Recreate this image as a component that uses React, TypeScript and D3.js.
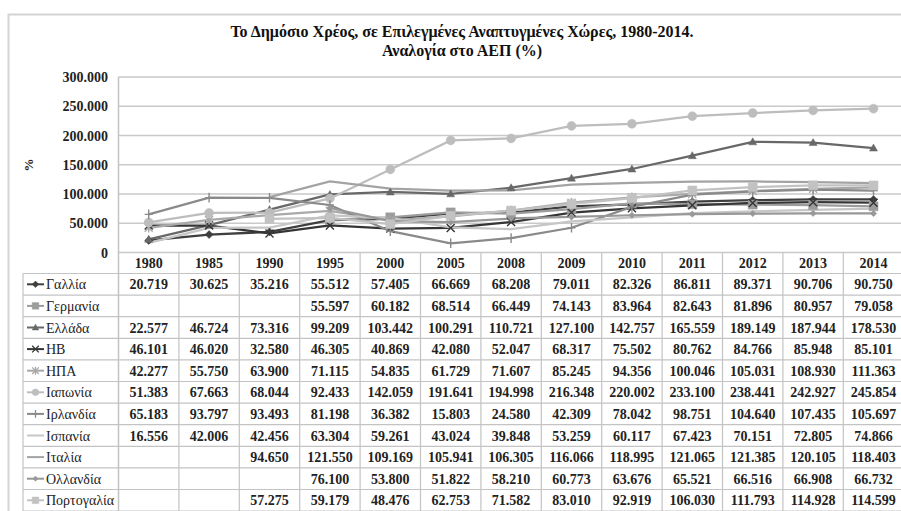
import React from 'react';
import * as d3 from 'd3';

const years = ['1980', '1985', '1990', '1995', '2000', '2005', '2008', '2009', '2010', '2011', '2012', '2013', '2014'];
const yTicks = [0, 50, 100, 150, 200, 250, 300];
const yTickLabels = ['0', '50.000', '100.000', '150.000', '200.000', '250.000', '300.000'];

const countries = ['Γαλλία', 'Γερμανία', 'Ελλάδα', 'HB', 'ΗΠΑ', 'Ιαπωνία', 'Ιρλανδία', 'Ισπανία', 'Ιταλία', 'Ολλανδία', 'Πορτογαλία'];

const france = [20.719, 30.625, 35.216, 55.512, 57.405, 66.669, 68.208, 79.011, 82.326, 86.811, 89.371, 90.706, 90.750];
const germany = [null, null, null, 55.597, 60.182, 68.514, 66.449, 74.143, 83.964, 82.643, 81.896, 80.957, 79.058];
const greece = [22.577, 46.724, 73.316, 99.209, 103.442, 100.291, 110.721, 127.100, 142.757, 165.559, 189.149, 187.944, 178.530];
const uk = [46.101, 46.020, 32.580, 46.305, 40.869, 42.080, 52.047, 68.317, 75.502, 80.762, 84.766, 85.948, 85.101];
const usa = [42.277, 55.750, 63.900, 71.115, 54.835, 61.729, 71.607, 85.245, 94.356, 100.046, 105.031, 108.930, 111.363];
const japan = [51.383, 67.663, 68.044, 92.433, 142.059, 191.641, 194.998, 216.348, 220.002, 233.100, 238.441, 242.927, 245.854];
const ireland = [65.183, 93.797, 93.493, 81.198, 36.382, 15.803, 24.580, 42.309, 78.042, 98.751, 104.640, 107.435, 105.697];
const spain = [16.556, 42.006, 42.456, 63.304, 59.261, 43.024, 39.848, 53.259, 60.117, 67.423, 70.151, 72.805, 74.866];
const italy = [null, null, 94.650, 121.550, 109.169, 105.941, 106.305, 116.066, 118.995, 121.065, 121.385, 120.105, 118.403];
const netherlands = [null, null, null, 76.100, 53.800, 51.822, 58.210, 60.773, 63.676, 65.521, 66.516, 66.908, 66.732];
const portugal = [null, null, 57.275, 59.179, 48.476, 62.753, 71.582, 83.010, 92.919, 106.030, 111.793, 114.928, 114.599];

const seriesValues = [france, germany, greece, uk, usa, japan, ireland, spain, italy, netherlands, portugal];
const seriesColors = ['#3f3f3f', '#9c9c9c', '#686868', '#353535', '#a9a9a9', '#bdbdbd', '#8a8a8a', '#c6c6c6', '#a3a3a3', '#989898', '#c2c2c2'];
const seriesMarkers = ['diamond', 'square', 'triangle', 'x', 'asterisk', 'circle', 'plus', 'none', 'none', 'diamondSmall', 'square'];

const W = 901;
const H = 511;
const serif = '"Liberation Serif", "Times New Roman", Times';

function markerPath(type: string, s: number): string {
  switch (type) {
    case 'diamond':
      return `M0,${-s}L${s},0L0,${s}L${-s},0Z`;
    case 'diamondSmall':
      return `M0,${-s * 0.8}L${s * 0.8},0L0,${s * 0.8}L${-s * 0.8},0Z`;
    case 'square':
      return `M${-s},${-s}H${s}V${s}H${-s}Z`;
    case 'triangle':
      return `M0,${-s}L${s},${s * 0.75}L${-s},${s * 0.75}Z`;
    case 'circle':
      return `M${s},0A${s},${s} 0 1,1 ${-s},0A${s},${s} 0 1,1 ${s},0Z`;
    case 'x':
      return `M${-s},${-s}L${s},${s}M${-s},${s}L${s},${-s}`;
    case 'asterisk':
      return `M${-s},${-s}L${s},${s}M${-s},${s}L${s},${-s}M0,${-s * 1.2}L0,${s * 1.2}`;
    case 'plus':
      return `M${-s},0L${s},0M0,${-s * 1.2}L0,${s * 1.2}`;
    default:
      return '';
  }
}

const strokeOnly = new Set(['x', 'asterisk', 'plus']);

export default function App() {
  const plotLeft = 118.5;
  const colW = 60.4;
  const plotRight = plotLeft + colW * years.length;
  const x = d3.scaleBand<string>().domain(years).range([plotLeft, plotRight]);
  const y = d3.scaleLinear().domain([0, 300]).range([252.5, 77]);

  const headerTop = y(0);
  const headerBottom = 273.5;
  const rowH = 21.6;
  const legendLeft = 23;
  const tableBottom = headerBottom + rowH * countries.length;

  const line = d3
    .line<number | null>()
    .defined((d) => d !== null)
    .x((_, i) => (x(years[i]) as number) + x.bandwidth() / 2)
    .y((d) => y(d as number));

  const gridColor = '#c9c9c9';
  const tableColor = '#c3c3c3';

  return (
    <svg width={W} height={H} style={{ position: 'absolute', left: 0, top: 0, background: '#fff', fontFamily: serif }}>
      <rect x={0} y={0} width={W} height={H} fill="#fff" />
      {/* outer chart frame */}
      <path d={`M8.5,${H + 5}V14.5H${W + 5}`} fill="none" stroke="#d4d4d4" strokeWidth={2} />

      {/* title */}
      <text x={462} y={37} textAnchor="middle" fontWeight="bold" fontSize={16} fill="#111">
        Το Δημόσιο Χρέος, σε Επιλεγμένες Αναπτυγμένες Χώρες, 1980-2014.
      </text>
      <text x={462} y={56} textAnchor="middle" fontWeight="bold" fontSize={16} fill="#111">
        Αναλογία στο ΑΕΠ (%)
      </text>

      {/* y axis label */}
      <text transform="translate(33,165) rotate(-90)" textAnchor="middle" fontWeight="bold" fontSize={13} fill="#222">
        %
      </text>

      {/* gridlines */}
      {yTicks.map((t) => (
        <line key={'g' + t} x1={plotLeft} x2={plotRight} y1={y(t)} y2={y(t)} stroke={gridColor} strokeWidth={1.5} />
      ))}
      {/* y tick labels */}
      {yTicks.map((t, i) => (
        <text key={'yl' + t} x={108} y={y(t) + 5} textAnchor="end" fontWeight="bold" fontSize={14} fill="#222">
          {yTickLabels[i]}
        </text>
      ))}

      {/* vertical axis line */}
      <line x1={plotLeft} x2={plotLeft} y1={y(300)} y2={tableBottom} stroke={tableColor} strokeWidth={1.5} />

      {/* table grid */}
      {years.map((yr) => (
        <line
          key={'v' + yr}
          x1={(x(yr) as number) + x.bandwidth()}
          x2={(x(yr) as number) + x.bandwidth()}
          y1={headerTop}
          y2={tableBottom}
          stroke={tableColor}
          strokeWidth={1.2}
        />
      ))}
      <line x1={legendLeft} x2={legendLeft} y1={headerBottom} y2={tableBottom} stroke={tableColor} strokeWidth={1.2} />
      {d3.range(countries.length + 1).map((k) => (
        <line
          key={'h' + k}
          x1={legendLeft}
          x2={plotRight}
          y1={headerBottom + k * rowH}
          y2={headerBottom + k * rowH}
          stroke={tableColor}
          strokeWidth={1.2}
        />
      ))}

      {/* header years */}
      {years.map((yr) => (
        <text
          key={'yr' + yr}
          x={(x(yr) as number) + x.bandwidth() / 2}
          y={(headerTop + headerBottom) / 2 + 5}
          textAnchor="middle"
          fontWeight="bold"
          fontSize={14}
          fill="#222"
        >
          {yr}
        </text>
      ))}

      {/* table rows */}
      {countries.map((c, k) => {
        const cy = headerBottom + k * rowH + rowH / 2;
        const col = seriesColors[k];
        const mk = seriesMarkers[k];
        return (
          <g key={'row' + c}>
            <line x1={27} x2={44} y1={cy} y2={cy} stroke={col} strokeWidth={2} />
            {mk !== 'none' && (
              <path
                d={markerPath(mk, 3.3)}
                transform={`translate(35.5,${cy})`}
                fill={strokeOnly.has(mk) ? 'none' : col}
                stroke={col}
                strokeWidth={strokeOnly.has(mk) ? 1.3 : 0.5}
              />
            )}
            <text x={46} y={cy + 5} fontSize={14} fill="#222">
              {c}
            </text>
            {seriesValues[k].map((v, i) =>
              v === null ? null : (
                <text
                  key={'v' + i}
                  x={(x(years[i]) as number) + x.bandwidth() / 2}
                  y={cy + 5}
                  textAnchor="middle"
                  fontWeight="bold"
                  fontSize={14}
                  fill="#222"
                >
                  {d3.format(',.3f')(v).replace(/,/g, '')}
                </text>
              )
            )}
          </g>
        );
      })}

      {/* series lines */}
      {seriesValues.map((vals, k) => (
        <path key={'l' + k} d={line(vals) || ''} fill="none" stroke={seriesColors[k]} strokeWidth={2.25} />
      ))}
      {/* markers */}
      {seriesValues.map((vals, k) =>
        seriesMarkers[k] === 'none'
          ? null
          : vals.map((v, i) =>
              v === null ? null : (
                <path
                  key={'m' + k + '-' + i}
                  d={markerPath(seriesMarkers[k], seriesMarkers[k] === 'square' || seriesMarkers[k] === 'circle' ? 4.5 : 4)}
                  transform={`translate(${(x(years[i]) as number) + x.bandwidth() / 2},${y(v)})`}
                  fill={strokeOnly.has(seriesMarkers[k]) ? 'none' : seriesColors[k]}
                  stroke={seriesColors[k]}
                  strokeWidth={strokeOnly.has(seriesMarkers[k]) ? 1.4 : 0.5}
                />
              )
            )
      )}
    </svg>
  );
}
